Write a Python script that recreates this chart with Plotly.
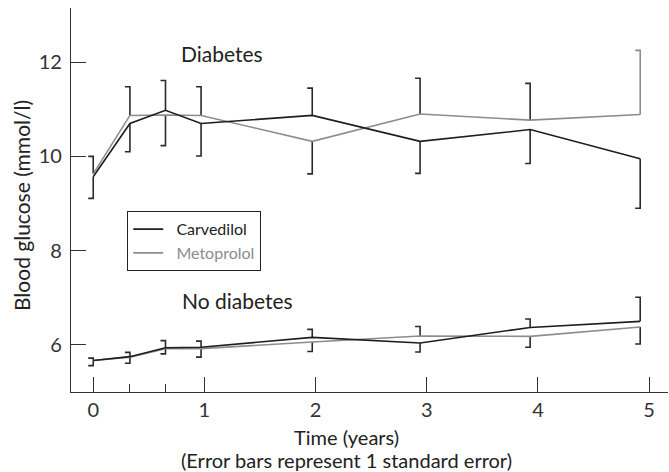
import plotly.graph_objects as go

# ---- data ----
time_years = [0, 0.33, 0.65, 0.97, 1.97, 2.94, 3.93, 4.92]

diab_carvedilol = [9.57, 10.70, 10.98, 10.70, 10.87, 10.32, 10.57, 9.95]
diab_metoprolol = [9.63, 10.87, 10.88, 10.87, 10.32, 10.90, 10.77, 10.89]
diab_err_top = [10.00, 11.48, 11.61, 11.48, 11.45, 11.66, 11.55, 12.25]
diab_err_bottom = [9.11, 10.10, 10.23, 10.01, 9.63, 9.64, 9.85, 8.90]

nodiab_carvedilol = [5.67, 5.75, 5.94, 5.95, 6.16, 6.04, 6.37, 6.50]
nodiab_metoprolol = [5.67, 5.74, 5.92, 5.92, 6.06, 6.19, 6.18, 6.38]
nodiab_err_top = [5.72, 5.84, 6.09, 6.08, 6.33, 6.39, 6.55, 7.01]
nodiab_err_bottom = [5.56, 5.61, 5.81, 5.74, 5.86, 5.85, 5.95, 6.02]

x_ticks = [0, 1, 2, 3, 4, 5]
y_ticks = [6, 8, 10, 12]

# ---- styles ----
FONT = "Lato"
BLACK = "#1e1e1e"
GREY = "#8c8c8c"
CAP = 0.045  # bracket cap length in years

fig = go.Figure()


def bracket_path(xs, a, b, top, bottom, skip=()):
    px, py = [], []
    for i, x in enumerate(xs):
        hi = max(a[i], b[i])
        lo = min(a[i], b[i])
        if ("top", i) not in skip:
            px += [x - CAP, x, x, None]
            py += [top[i], top[i], hi, None]
        if ("bottom", i) not in skip:
            px += [x, x, x - CAP, None]
            py += [lo, bottom[i], bottom[i], None]
    return px, py


last = len(time_years) - 1
# diabetes brackets (last upper bracket drawn grey as in the reference)
bx, by = bracket_path(time_years, diab_carvedilol, diab_metoprolol,
                      diab_err_top, diab_err_bottom, skip={("top", last)})
fig.add_trace(go.Scatter(x=bx, y=by, mode="lines", showlegend=False,
                         hoverinfo="skip", line=dict(color="#2a2a2a", width=1.6)))
gx = [time_years[last] - CAP, time_years[last], time_years[last]]
gy = [diab_err_top[last], diab_err_top[last], max(diab_carvedilol[last], diab_metoprolol[last])]
fig.add_trace(go.Scatter(x=gx, y=gy, mode="lines", showlegend=False,
                         hoverinfo="skip", line=dict(color=GREY, width=1.6)))
# no-diabetes brackets
bx, by = bracket_path(time_years, nodiab_carvedilol, nodiab_metoprolol,
                      nodiab_err_top, nodiab_err_bottom)
fig.add_trace(go.Scatter(x=bx, y=by, mode="lines", showlegend=False,
                         hoverinfo="skip", line=dict(color="#2a2a2a", width=1.6)))

# series lines
fig.add_trace(go.Scatter(x=time_years, y=diab_metoprolol, mode="lines",
                         name="&nbsp;&nbsp;<span style='color:#8c8c8c'>Metoprolol</span>",
                         legendrank=2, line=dict(color=GREY, width=1.6)))
fig.add_trace(go.Scatter(x=time_years, y=nodiab_metoprolol, mode="lines",
                         showlegend=False, line=dict(color=GREY, width=1.6)))
fig.add_trace(go.Scatter(x=time_years, y=diab_carvedilol, mode="lines",
                         name="&nbsp;&nbsp;Carvedilol", legendrank=1,
                         line=dict(color=BLACK, width=1.6)))
fig.add_trace(go.Scatter(x=time_years, y=nodiab_carvedilol, mode="lines",
                         showlegend=False, line=dict(color=BLACK, width=1.6)))

L, R, T, B = 71, 1, 8, 80
W, H = 669, 472
pw = W - L - R
ph = H - T - B


def px_x(p):
    return (p - L) / pw


def px_y(p):
    return (H - B - p) / ph


def label(text, x, y, size, angle=0):
    return dict(text=text, x=px_x(x), y=px_y(y), xref="paper", yref="paper",
                xanchor="center", yanchor="middle", showarrow=False,
                textangle=angle, font=dict(size=size, color="#222"))


fig.update_layout(
    width=W, height=H,
    margin=dict(l=L, r=R, t=T, b=B),
    paper_bgcolor="white", plot_bgcolor="white",
    font=dict(family=FONT, size=18, color="#222"),
    showlegend=True,
    legend=dict(
        x=px_x(127), y=px_y(211),
        xanchor="left", yanchor="top",
        bordercolor="#222", borderwidth=1.2, bgcolor="white",
        font=dict(family=FONT, size=16, color="#222"),
        tracegroupgap=0, itemwidth=30,
    ),
    xaxis=dict(
        range=[-0.2, 5.17], showgrid=False, zeroline=False,
        showline=True, linecolor="#333", linewidth=1.3,
        tickmode="array", tickvals=x_ticks,
        ticks="inside", ticklen=15, tickwidth=1.3, tickcolor="#333",
        minor=dict(tickvals=[time_years[1], time_years[2]], ticks="inside",
                   ticklen=8, tickwidth=1.3, tickcolor="#333"),
        tickfont=dict(size=20, color="#333"),
    ),
    yaxis=dict(
        range=[5, 13.15], showgrid=False, zeroline=False,
        showline=True, linecolor="#333", linewidth=1.3,
        tickmode="array", tickvals=y_ticks,
        ticks="inside", ticklen=15, tickwidth=1.3, tickcolor="#333",
        ticklabelstandoff=4,
        tickfont=dict(size=20, color="#333"),
    ),
    annotations=[
        label("Diabetes", 222, 54, 21),
        label("No diabetes", 237, 300, 21),
        label("Time (years)", 346, 437, 20),
        label("(Error bars represent 1 standard error)", 346, 460, 20),
        label("Blood glucose (mmol/l)", 21, 206, 21, angle=-90),
    ],
)

fig.write_html("out.html", config={"displayModeBar": False},
               post_script="document.body.style.margin='0px';document.body.style.overflow='hidden';")
